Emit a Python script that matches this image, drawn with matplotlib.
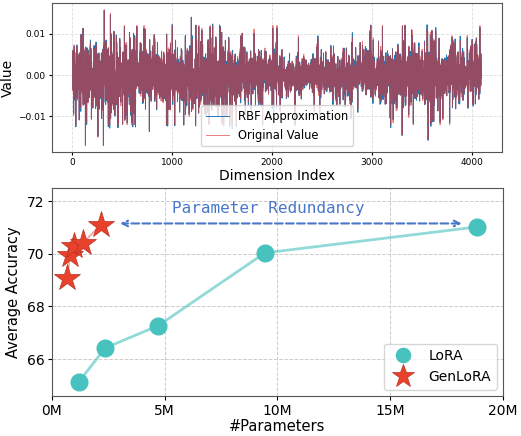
import numpy as np
import matplotlib.pyplot as plt

# ---------------- top panel: RBF approximation vs original ----------------
n_dim = 4096
# envelope (std of the values), per index segment
seg_edges = [0, 300, 700, 1100, 1600, 1750, 2100, 2500, 2900, 3200, 3650, 4096]
seg_scale = [0.0046, 0.0046, 0.0040, 0.0045, 0.0037, 0.0031, 0.0025, 0.0030, 0.0036, 0.0042, 0.0035]
# the most visible spikes (index, value)
spike_idx = [130, 255, 310, 318, 380, 770, 1190, 1480, 1530, 3210, 3300, 3400, 3550, 3560, 3800]
spike_val = [-0.017, -0.015, -0.017, 0.0158, 0.0150, -0.0135, 0.0140, 0.0115, -0.0100, -0.0115, -0.0145, 0.0108, 0.0110, -0.0155, 0.0095]

# ---------------- bottom panel: accuracy vs #parameters ----------------
lora_params = [1.18, 2.36, 4.72, 9.44, 18.87]        # millions
lora_acc = [65.12, 66.42, 67.27, 70.03, 71.02]
genlora_params = [0.68, 0.80, 0.98, 1.37, 2.17]
genlora_acc = [69.08, 69.96, 70.28, 70.41, 71.10]
xticks = [0, 5, 10, 15, 20]
xtick_labels = ["0M", "5M", "10M", "15M", "20M"]
yticks = [66, 68, 70, 72]

# texture of the signal (not readable point by point), scaled by the envelope above
rs = np.random.RandomState(3)
scale = np.zeros(n_dim)
for i in range(len(seg_scale)):
    scale[seg_edges[i]:seg_edges[i + 1]] = seg_scale[i]
original = rs.standard_t(5, n_dim) * scale * 0.75
original = np.clip(original, -0.012, 0.012)
original[spike_idx] = spike_val
rbf = original + rs.normal(0, 0.0005, n_dim)

fig = plt.figure(figsize=(5.21, 4.36), dpi=100)
ax1 = fig.add_axes([0.0998, 0.651, 0.8637, 0.342])
ax2 = fig.add_axes([0.0998, 0.092, 0.8652, 0.477])

idx = np.arange(n_dim)
ax1.plot(idx, rbf, color="#1f77b4", lw=0.7, label="RBF Approximation")
ax1.plot(idx, original, color="#dc3232", lw=0.7, alpha=0.62, label="Original Value")
ax1.set_xlabel("Dimension Index", fontsize=10, labelpad=1)
ax1.set_ylabel("Value", fontsize=10, labelpad=2)
ax1.set_xticks([0, 1000, 2000, 3000, 4000])
ax1.set_yticks([-0.01, 0.0, 0.01])
ax1.set_yticklabels(["\u22120.01", "0.00", "0.01"])
ax1.tick_params(labelsize=6.5, length=2.5, pad=2)
ax1.grid(True, ls="--", color="#dddddd", lw=0.6)
ax1.legend(loc="lower center", fontsize=8.3, handlelength=2.0)
for s in ax1.spines.values():
    s.set_color("#555555")

ax2.plot(lora_params, lora_acc, color="#48c2bf", lw=2.0, alpha=0.6, zorder=2)
ax2.plot(lora_params, lora_acc, "o", color="#48c2bf", ms=12, zorder=3, label="LoRA")
ax2.plot(genlora_params, genlora_acc, color="#f07a6a", lw=1.5, alpha=0.6, zorder=2)
ax2.plot(genlora_params, genlora_acc, "*", color="#e8412c", mec="#b83020", mew=0.5,
         ms=20, zorder=4, label="GenLoRA")

ax2.annotate("", xy=(2.9, 71.15), xytext=(18.3, 71.15),
             arrowprops=dict(arrowstyle="<->", ls="--", color="#4a78c8", lw=1.5))
ax2.text(9.6, 71.7, "Parameter Redundancy", family="DejaVu Sans Mono", fontsize=11.5,
         color="#4a78c8", ha="center", va="center")

ax2.set_xlim(0, 20)
ax2.set_ylim(64.6, 72.5)
ax2.set_xticks(xticks)
ax2.set_xticklabels(xtick_labels)
ax2.set_yticks(yticks)
ax2.tick_params(labelsize=10, length=3, pad=2.5)
ax2.set_xlabel("#Parameters", fontsize=10.5, labelpad=1)
ax2.set_ylabel("Average Accuracy", fontsize=10.5, labelpad=4)
ax2.grid(True, ls="--", color="#cccccc", lw=0.7)
ax2.legend(loc="lower right", fontsize=10, markerscale=0.85, borderaxespad=0.45)
for s in ax2.spines.values():
    s.set_color("#555555")

fig.savefig("out.png", dpi=100)
